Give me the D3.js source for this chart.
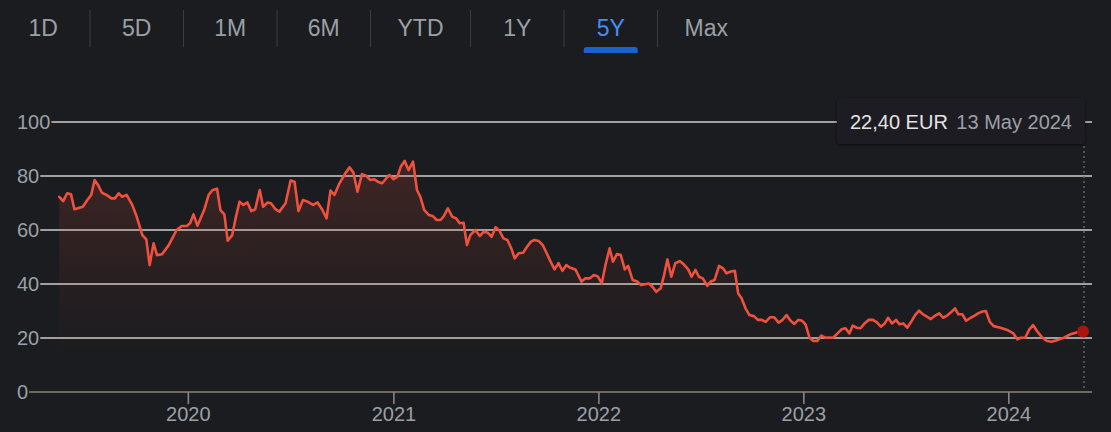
<!DOCTYPE html>
<html>
<head>
<meta charset="utf-8">
<script src="https://d3js.org/d3.v7.min.js"></script>
<style>
  html, body { margin: 0; padding: 0; background: #1b1c1f; overflow: hidden; }
  svg { display: block; font-family: "Liberation Sans", Arial, sans-serif; }
</style>
</head>
<body>
<div class="quote__chart"></div>
<script>
'use strict';

// Range tabs
var tabLabels = ['1D', '5D', '1M', '6M', 'YTD', '1Y', '5Y', 'Max'];
var activeTab = '5Y';

// Axis ticks
var yTicks = [0, 20, 40, 60, 80, 100];
var xTickYears = ['2020', '2021', '2022', '2023', '2024'];

// Visible period
var periodStart = '2019-05-13';
var periodEnd = '2024-05-13';

// Weekly closes (EUR)
var dates = [
  '2019-05-17','2019-05-24','2019-05-31','2019-06-07','2019-06-13','2019-06-28','2019-07-06','2019-07-13',
  '2019-07-19','2019-07-25','2019-08-01','2019-08-09','2019-08-18','2019-08-24','2019-08-31','2019-09-06',
  '2019-09-14','2019-09-24','2019-10-02','2019-10-12','2019-10-19','2019-10-25','2019-11-01','2019-11-07',
  '2019-11-16','2019-11-28','2019-12-12','2019-12-21','2019-12-30','2020-01-05','2020-01-11','2020-01-18',
  '2020-01-30','2020-02-07','2020-02-14','2020-02-22','2020-02-28','2020-03-06','2020-03-12','2020-03-20',
  '2020-03-26','2020-04-02','2020-04-09','2020-04-16','2020-04-23','2020-04-30','2020-05-08','2020-05-14',
  '2020-05-22','2020-05-28','2020-06-05','2020-06-12','2020-06-23','2020-07-02','2020-07-09','2020-07-16',
  '2020-07-24','2020-08-01','2020-08-11','2020-08-19','2020-08-27','2020-09-04','2020-09-11','2020-09-18',
  '2020-09-27','2020-10-08','2020-10-15','2020-10-22','2020-10-29','2020-11-06','2020-11-14','2020-11-21',
  '2020-11-28','2020-12-04','2020-12-12','2020-12-18','2020-12-25','2021-01-01','2021-01-08','2021-01-14',
  '2021-01-21','2021-01-28','2021-02-05','2021-02-12','2021-02-18','2021-02-25','2021-03-05','2021-03-12',
  '2021-03-19','2021-03-26','2021-04-01','2021-04-08','2021-04-16','2021-04-23','2021-04-29','2021-05-06',
  '2021-05-12','2021-05-18','2021-05-27','2021-06-04','2021-06-11','2021-06-18','2021-06-25','2021-07-02',
  '2021-07-09','2021-07-16','2021-07-23','2021-07-30','2021-08-05','2021-08-12','2021-08-20','2021-08-27',
  '2021-09-03','2021-09-09','2021-09-17','2021-09-24','2021-10-01','2021-10-08','2021-10-15','2021-10-22',
  '2021-10-29','2021-11-05','2021-11-12','2021-11-21','2021-12-02','2021-12-09','2021-12-17','2021-12-24',
  '2021-12-31','2022-01-07','2022-01-14','2022-01-21','2022-01-27','2022-02-03','2022-02-10','2022-02-17',
  '2022-02-23','2022-03-03','2022-03-11','2022-03-18','2022-03-25','2022-04-01','2022-04-08','2022-04-14',
  '2022-04-22','2022-04-28','2022-05-04','2022-05-11','2022-05-18','2022-05-26','2022-06-02','2022-06-10',
  '2022-06-16','2022-06-23','2022-06-29','2022-07-06','2022-07-14','2022-07-20','2022-07-27','2022-08-04',
  '2022-08-11','2022-08-17','2022-08-25','2022-09-01','2022-09-07','2022-09-13','2022-09-20','2022-09-27',
  '2022-10-05','2022-10-12','2022-10-19','2022-10-26','2022-11-03','2022-11-10','2022-11-18','2022-11-25',
  '2022-12-02','2022-12-09','2022-12-16','2022-12-23','2022-12-29','2023-01-05','2023-01-12','2023-01-19',
  '2023-01-26','2023-02-02','2023-02-09','2023-02-16','2023-02-23','2023-03-03','2023-03-10','2023-03-17',
  '2023-03-24','2023-03-30','2023-04-06','2023-04-13','2023-04-20','2023-04-27','2023-05-05','2023-05-12',
  '2023-05-19','2023-05-26','2023-06-01','2023-06-08','2023-06-15','2023-06-21','2023-06-28','2023-07-05',
  '2023-07-12','2023-07-19','2023-07-26','2023-08-02','2023-08-09','2023-08-16','2023-08-24','2023-08-31',
  '2023-09-07','2023-09-14','2023-09-21','2023-09-28','2023-10-04','2023-10-11','2023-10-18','2023-10-26',
  '2023-11-02','2023-11-09','2023-11-16','2023-11-22','2023-11-29','2023-12-06','2023-12-18','2023-12-30',
  '2024-01-10','2024-01-17','2024-01-23','2024-01-31','2024-02-07','2024-02-14','2024-02-21','2024-02-29',
  '2024-03-09','2024-03-18','2024-03-29','2024-04-09','2024-04-21','2024-05-03','2024-05-13'
];
var prices = [
  72.3, 70.7, 73.6, 73.2, 67.7, 68.6, 71.1, 73.0,
  78.5, 76.7, 73.8, 73.0, 71.7, 71.7, 73.6, 72.3,
  73.0, 69.3, 64.9, 58.1, 56.5, 47.0, 55.1, 50.7,
  51.0, 54.4, 60.0, 61.5, 61.5, 62.5, 65.8, 61.6,
  67.4, 73.0, 74.8, 75.3, 67.4, 65.8, 56.0, 58.1,
  64.3, 70.5, 69.3, 70.2, 67.0, 67.7, 74.8, 68.6,
  70.2, 69.9, 67.7, 66.8, 69.9, 78.3, 77.9, 67.0,
  71.1, 70.5, 69.3, 70.2, 67.7, 64.3, 74.6, 73.0,
  77.3, 81.2, 83.2, 81.2, 74.2, 80.7, 80.0, 78.5,
  78.8, 77.9, 77.3, 78.8, 80.4, 78.8, 79.7, 83.4,
  85.6, 82.2, 85.3, 74.8, 72.3, 67.4, 65.6, 65.2,
  63.7, 63.7, 65.2, 68.0, 64.9, 64.3, 62.5, 62.7,
  54.4, 58.1, 60.0, 57.8, 59.4, 59.0, 57.5, 61.0,
  59.7, 56.9, 56.3, 53.2, 49.5, 51.4, 51.6, 53.8,
  55.7, 56.3, 55.9, 54.4, 51.4, 48.3, 45.4, 47.7,
  44.9, 47.0, 46.0, 45.4, 40.9, 42.1, 42.1, 43.3,
  42.8, 40.2, 47.3, 53.2, 48.3, 51.1, 50.7, 45.4,
  46.7, 41.5, 40.9, 39.6, 39.9, 40.2, 38.8, 37.1,
  38.4, 43.3, 49.1, 42.7, 47.7, 48.5, 47.3, 45.4,
  42.7, 45.2, 42.7, 42.1, 39.3, 40.9, 41.5, 46.7,
  45.8, 44.0, 44.6, 44.9, 36.5, 34.7, 31.0, 28.5,
  28.1, 26.7, 26.7, 26.0, 27.7, 27.7, 25.7, 26.7,
  28.5, 26.5, 25.2, 26.7, 26.5, 25.0, 20.1, 18.9,
  18.9, 20.9, 20.1, 20.2, 20.1, 21.7, 23.2, 23.6,
  21.7, 24.6, 23.8, 23.6, 25.4, 26.7, 26.7, 25.8,
  24.2, 25.4, 27.5, 25.4, 26.7, 25.1, 25.4, 23.8,
  26.0, 28.5, 30.1, 28.8, 27.9, 27.0, 28.3, 29.1,
  27.5, 28.3, 29.5, 31.0, 28.8, 28.8, 26.4, 27.5,
  28.3, 29.2, 29.8, 30.0, 26.0, 24.4, 23.8, 23.0,
  21.7, 19.5, 20.1, 20.1, 23.0, 24.8, 22.6, 20.5,
  19.0, 18.6, 19.3, 20.1, 21.4, 22.1, 22.4
];

// Last quote shown in the tooltip
var lastPriceLabel = '22,40 EUR';
var lastDateLabel = '13 May 2024';

(function() {
  // Colors
  var BG = '#1b1c1f';
  var TEXT = '#9aa0a6';
  var BLUE_TEXT = '#4a8cf4';
  var BLUE_BAR = '#1a62cf';
  var SEPARATOR = '#3a3c40';
  var GRID = '#cfcdc8';
  var AXIS = '#8a857c';
  var LINE = '#f0513f';
  var DOT = '#ad130f';

  //Width and height
  var w = 1111;
  var h = 432;
  var plotTop = 122;
  var plotBottom = 392;
  var plotLeft = 57;
  var plotRight = 1083;
  var gridRight = 1092;
  var labelX = 17;

  var parseDate = d3.timeParse('%Y-%m-%d');

  var dataset = dates.map(function(d, i) {
    return {date: parseDate(d), price: prices[i]};
  });

  var svg = d3.select('.quote__chart')
    .append('svg')
    .attr('width', w)
    .attr('height', h);

  svg.append('rect')
    .attr('width', w)
    .attr('height', h)
    .attr('fill', BG);

  var defs = svg.append('defs');

  // ---- Range tabs ----
  var tabs = svg.append('g').attr('class', 'tabs');
  var tabText = tabs.selectAll('text')
    .data(tabLabels)
    .enter()
    .append('text')
    .text(function(d) { return d; })
    .attr('y', 36)
    .attr('font-size', 23)
    .attr('text-anchor', 'middle')
    .attr('fill', function(d) { return d === activeTab ? BLUE_TEXT : TEXT; });

  var tabX = -3.5;
  var separators = [];
  tabText.each(function(d, i) {
    var tw = Math.max(93.5, this.getComputedTextLength() + 54);
    var cx = tabX + tw / 2;
    d3.select(this).attr('x', cx);
    if (d === activeTab) {
      var bx = cx - 27, bw = 54;
      tabs.append('path')
        .attr('d', 'M' + bx + ',53V50Q' + bx + ',47 ' + (bx + 3) + ',47H' + (bx + bw - 3) +
          'Q' + (bx + bw) + ',47 ' + (bx + bw) + ',50V53Z')
        .attr('fill', BLUE_BAR);
    }
    tabX += tw;
    if (i < tabLabels.length - 1) separators.push(tabX);
  });

  tabs.selectAll('line')
    .data(separators)
    .enter()
    .append('line')
    .attr('x1', function(d) { return d; })
    .attr('x2', function(d) { return d; })
    .attr('y1', 10)
    .attr('y2', 47)
    .attr('stroke', SEPARATOR)
    .attr('stroke-width', 1);

  // ---- Scales ----
  var yScale = d3.scaleLinear()
    .domain([0, 100])
    .range([plotBottom, plotTop]);

  var xScale = d3.scaleTime()
    .domain([parseDate(periodStart), parseDate(periodEnd)])
    .range([plotLeft, plotRight]);

  // ---- Y grid with labels ----
  var grid = svg.append('g').attr('class', 'grid');
  yTicks.forEach(function(t) {
    var label = grid.append('text')
      .text(t)
      .attr('x', labelX)
      .attr('y', yScale(t) + 7)
      .attr('font-size', 20)
      .attr('fill', TEXT);
    var lw = label.node().getComputedTextLength();
    grid.append('line')
      .attr('x1', labelX + lw + 1)
      .attr('x2', gridRight)
      .attr('y1', yScale(t))
      .attr('y2', yScale(t))
      .attr('stroke', t === 0 ? AXIS : GRID)
      .attr('stroke-width', t === 0 ? 1.6 : 1.5);
  });

  // ---- X axis ----
  var xAxis = d3.axisBottom(xScale)
    .tickValues(xTickYears.map(function(y) { return parseDate(y + '-01-01'); }))
    .tickFormat(d3.timeFormat('%Y'))
    .tickSize(12)
    .tickPadding(3);

  var xAxisG = svg.append('g')
    .attr('class', 'axis')
    .attr('transform', 'translate(0,' + plotBottom + ')')
    .call(xAxis);

  xAxisG.select('.domain').remove();
  xAxisG.selectAll('line').attr('stroke', AXIS).attr('stroke-width', 1.6);
  xAxisG.selectAll('text')
    .attr('fill', TEXT)
    .attr('font-size', 20)
    .attr('font-family', '"Liberation Sans", Arial, sans-serif');

  // ---- Area + line ----
  var grad = defs.append('linearGradient')
    .attr('id', 'areaFill')
    .attr('gradientUnits', 'userSpaceOnUse')
    .attr('x1', 0).attr('x2', 0)
    .attr('y1', yScale(d3.max(prices)))
    .attr('y2', plotBottom);
  grad.append('stop').attr('offset', 0).attr('stop-color', LINE).attr('stop-opacity', 0.17);
  grad.append('stop').attr('offset', 0.55).attr('stop-color', LINE).attr('stop-opacity', 0.05);
  grad.append('stop').attr('offset', 0.85).attr('stop-color', LINE).attr('stop-opacity', 0);

  var area = d3.area()
    .x(function(d) { return xScale(d.date); })
    .y0(plotBottom)
    .y1(function(d) { return yScale(d.price); });

  var line = d3.line()
    .x(function(d) { return xScale(d.date); })
    .y(function(d) { return yScale(d.price); });

  svg.append('path')
    .datum(dataset)
    .attr('d', area)
    .attr('fill', 'url(#areaFill)');

  svg.append('path')
    .datum(dataset)
    .attr('d', line)
    .attr('fill', 'none')
    .attr('stroke', LINE)
    .attr('stroke-width', 2.6)
    .attr('stroke-linejoin', 'round')
    .attr('stroke-linecap', 'round');

  // ---- Last point marker ----
  var last = dataset[dataset.length - 1];
  var lx = xScale(last.date);

  svg.append('line')
    .attr('x1', lx + 1).attr('x2', lx + 1)
    .attr('y1', 146).attr('y2', plotBottom)
    .attr('stroke', '#6a6c70')
    .attr('stroke-width', 1.3)
    .attr('stroke-dasharray', '2,3');

  svg.append('circle')
    .attr('cx', lx)
    .attr('cy', yScale(last.price))
    .attr('r', 6)
    .attr('fill', DOT);

  // ---- Tooltip ----
  var shadow = defs.append('filter')
    .attr('id', 'tipShadow')
    .attr('x', -0.1).attr('y', -0.3)
    .attr('width', 1.2).attr('height', 1.6);
  shadow.append('feDropShadow')
    .attr('dx', 0).attr('dy', 1)
    .attr('stdDeviation', 1.5)
    .attr('flood-color', '#000')
    .attr('flood-opacity', 0.6);

  var tip = svg.append('g').attr('class', 'tooltip');
  tip.append('rect')
    .attr('x', lx - 246)
    .attr('y', 98)
    .attr('width', 248)
    .attr('height', 46)
    .attr('rx', 3)
    .attr('fill', '#1d1e21')
    .attr('filter', 'url(#tipShadow)');
  tip.append('text')
    .text(lastPriceLabel)
    .attr('x', lx - 233)
    .attr('y', 129)
    .attr('font-size', 20)
    .attr('fill', '#e3e3e3');
  tip.append('text')
    .text(lastDateLabel)
    .attr('x', lx - 11)
    .attr('y', 129)
    .attr('font-size', 20)
    .attr('text-anchor', 'end')
    .attr('fill', TEXT);
})();
</script>
</body>
</html>
